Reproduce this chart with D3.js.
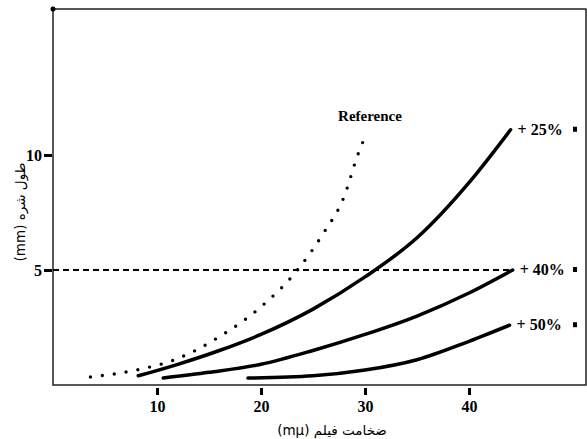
<!DOCTYPE html>
<html lang="fa">
<head>
<meta charset="utf-8">
<title>Film thickness</title>
<script src="https://cdn.jsdelivr.net/npm/d3@7/dist/d3.min.js"></script>
<style>
 body { margin: 0; background: #fff; }
 .serif { font-family: "Liberation Serif", "Times New Roman", serif; font-weight: bold; }
 .fa { font-family: "DejaVu Sans", sans-serif; font-weight: normal; }
</style>
</head>
<body>
<script>
 // curves: [thickness, length]
 var refPts = [[3.6,0.35],[8,0.65],[12,1.15],[16,2.1],[20,3.4],[23.5,5],[26,6.6],[28,8.2],[29.3,10],[30.2,11]];
 var p25 = [[8.2,0.4],[12,0.9],[16,1.5],[20,2.2],[25,3.3],[30,4.7],[35,6.4],[40,8.8],[44,11.1]];
 var p40 = [[10.6,0.3],[15,0.55],[20,0.9],[25,1.5],[30,2.2],[35,3.0],[40,4.0],[44.2,5.0]];
 var p50 = [[18.75,0.3],[25,0.4],[30,0.65],[35,1.1],[40,1.9],[43.9,2.6]];
 var xTicks = [10, 20, 30, 40];
 var yTicks = [5, 10];
 var refLine = 5;
 var labels = [
   {text: "+ 25%", pts: p25},
   {text: "+ 40%", pts: p40},
   {text: "+ 50%", pts: p50}
 ];

 var W = 587, H = 439;
 var svg = d3.select("body").append("svg").attr("width", W).attr("height", H);

 var x = d3.scaleLinear().domain([0, 51.25]).range([53, 586]);
 var y = d3.scaleLinear().domain([0, 16.35]).range([385, 9]);

 // frame
 svg.append("rect")
    .attr("x", x(0)).attr("y", y(16.35))
    .attr("width", x(51.25) - x(0)).attr("height", y(0) - y(16.35))
    .attr("fill", "none").attr("stroke", "#222").attr("stroke-width", 1.5);
 svg.append("circle").attr("cx", x(0)).attr("cy", y(16.35)).attr("r", 2.5).attr("fill", "#000");

 // axes
 var xAxis = svg.append("g").attr("transform", "translate(0," + (y(0) + 3) + ")")
    .call(d3.axisBottom(x).tickValues(xTicks).tickSize(7).tickPadding(6));
 var yAxis = svg.append("g").attr("transform", "translate(" + (x(0) - 1) + ",0)")
    .call(d3.axisLeft(y).tickValues(yTicks).tickSize(8).tickPadding(2));
 [xAxis, yAxis].forEach(function (g) {
     g.select(".domain").remove();
     g.selectAll(".tick line").attr("stroke", "#000").attr("stroke-width", 3);
     g.selectAll(".tick text").attr("class", "serif")
      .style("font-size", "16px").attr("fill", "#000");
 });

 // dashed reference line
 svg.append("line")
    .attr("x1", x(0)).attr("x2", x(44.2))
    .attr("y1", y(refLine)).attr("y2", y(refLine))
    .attr("stroke", "#000").attr("stroke-width", 2).attr("stroke-dasharray", "6,4");

 var line = d3.line()
    .x(function (d) { return x(d[0]); })
    .y(function (d) { return y(d[1]); })
    .curve(d3.curveMonotoneX);

 svg.append("path").datum(refPts).attr("d", line)
    .attr("fill", "none").attr("stroke", "#000").attr("stroke-width", 3.4)
    .attr("stroke-linecap", "round").attr("stroke-dasharray", "0,12");

 labels.forEach(function (l) {
     svg.append("path").datum(l.pts).attr("d", line)
        .attr("fill", "none").attr("stroke", "#000").attr("stroke-width", 3.5)
        .attr("stroke-linecap", "round");
     var last = l.pts[l.pts.length - 1];
     svg.append("text").attr("class", "serif")
        .attr("x", x(last[0]) + 7).attr("y", y(last[1]) + 5)
        .style("font-size", "16px").attr("fill", "#000").text(l.text);
     svg.append("rect").attr("x", 573).attr("y", y(last[1]) - 3)
        .attr("width", 4).attr("height", 5).attr("fill", "#000");
 });

 svg.append("text").attr("class", "serif")
    .attr("x", 370).attr("y", 121).attr("text-anchor", "middle")
    .style("font-size", "15px").attr("fill", "#000").text("Reference");

 // axis titles
 svg.append("text").attr("class", "fa")
    .attr("x", 332).attr("y", 435).attr("text-anchor", "middle")
    .attr("direction", "rtl")
    .style("font-size", "13.5px").attr("fill", "#000")
    .text("ضخامت فیلم (mμ)");
 svg.append("text").attr("class", "fa")
    .attr("transform", "translate(25,212) rotate(-90)")
    .attr("text-anchor", "middle").attr("direction", "rtl")
    .style("font-size", "13.5px").attr("fill", "#000")
    .text("طول شره (mm)");
</script>
</body>
</html>
